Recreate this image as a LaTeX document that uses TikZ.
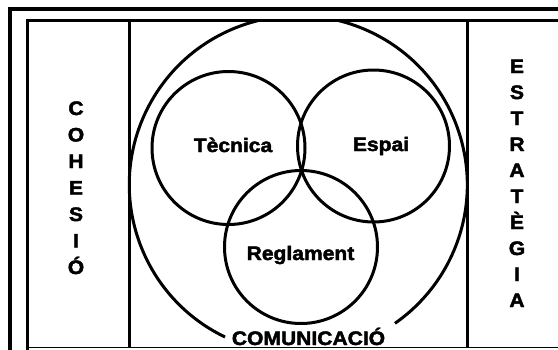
\documentclass[tikz,border=0pt]{standalone}
\usepackage{fontspec}
\newfontfamily\hv{Liberation Sans}[FakeStretch=1.08, BoldFeatures={FakeBold=2.2}]
\tikzset{
  lab/.style={font=\hv\bfseries\fontsize{19.5}{20}\selectfont, inner sep=0pt, anchor=base},
  ring/.style={draw, circle, line width=3pt, inner sep=0pt},
  frameline/.style={line width=3pt},
}
\begin{document}
\begin{tikzpicture}[x=1pt,y=-1pt]
\useasboundingbox (0,0) rectangle (558,349);
\fill[white] (0,0) rectangle (558,349);
% frames
\draw[line width=4pt] (10,360) -- (10,9) -- (570,9);
\draw[frameline] (27,360) -- (27,20) -- (570,20);
\draw[line width=1.5pt] (27,347.5) -- (570,347.5);
\draw[frameline] (129,20) -- (129,348);
\draw[frameline] (467,20) -- (467,348);
% big circle
\begin{scope}
  \clip (27,20) rectangle (558,347);
  \coordinate (comL) at (225,337);
  \draw[line width=3pt] (comL) arc[start angle=115.7, end angle=415.1, radius=169];
\end{scope}
\node[lab] (com) at (308.5,345) {COMUNICACIÓ};
% three circles
\node[ring, minimum size=153pt] (tec) at (228.5,148) {};
\node[ring, minimum size=152pt] (esp) at (373.5,146) {};
\node[ring, minimum size=153pt] (reg) at (301,247) {};
\node[lab] (tect) at (233,152) {Tècnica};
\node[lab] (espt) at (381,151) {Espai};
\node[lab] (regt) at (300.5,260) {Reglament};
% vertical words
\foreach \l [count=\i] in {C,O,H,E,S,I,Ó}
  \node[lab] (coh\i) at (76,{115+26.5*(\i-1)}) {\l};
\foreach \l [count=\i] in {E,S,T,R,A,T,È,G,I,A}
  \node[lab] (est\i) at (517,{73+26*(\i-1)}) {\l};
\end{tikzpicture}
\end{document}
